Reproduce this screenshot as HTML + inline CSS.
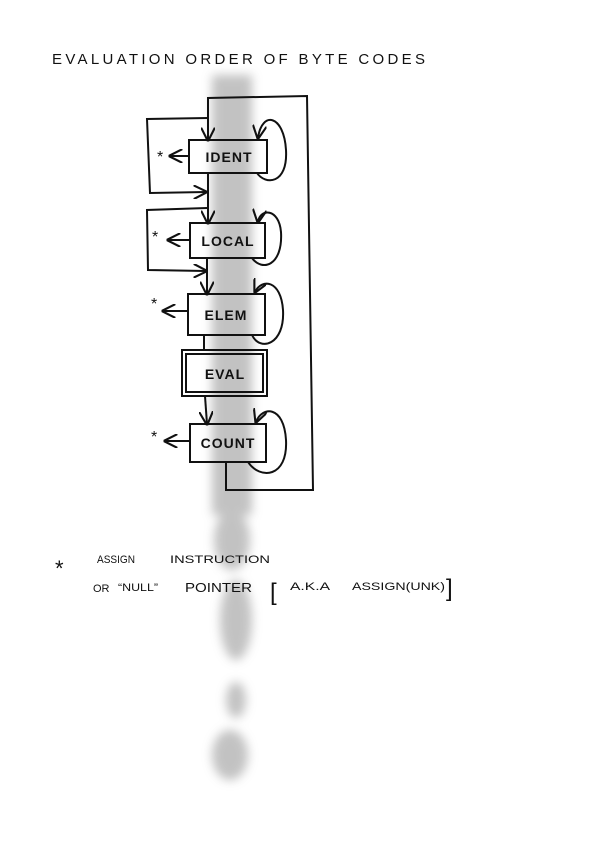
<!DOCTYPE html>
<html><head><meta charset="utf-8"><style>
html,body{margin:0;padding:0;background:#fff;width:608px;height:842px;overflow:hidden}
svg{display:block}
text{font-family:"Liberation Sans",sans-serif;fill:#111}
</style></head><body>
<svg width="608" height="842" viewBox="0 0 608 842" xmlns="http://www.w3.org/2000/svg">
<defs>
<filter id="b" x="-50%" y="-10%" width="200%" height="120%"><feGaussianBlur stdDeviation="5"/></filter>
<marker id="ar" viewBox="0 0 10 10" refX="9" refY="5" markerWidth="7" markerHeight="7" orient="auto"><path d="M0,0 L10,5 L0,10" fill="none" stroke="#111" stroke-width="1.5"/></marker>
</defs>
<g fill="#b4b4b4" filter="url(#b)" opacity="0.8">
<rect x="212" y="75" width="40" height="440"/>
<ellipse cx="232" cy="540" rx="18" ry="30"/>
<ellipse cx="236" cy="620" rx="16" ry="40"/>
<ellipse cx="236" cy="700" rx="10" ry="18"/>
<ellipse cx="230" cy="755" rx="18" ry="25"/>
</g>
<text x="52" y="64" font-size="15" textLength="373" lengthAdjust="spacing">EVALUATION ORDER OF BYTE CODES</text>
<g fill="none" stroke="#111" stroke-width="2">
<path d="M226,462 L226,490 L313,490 L307,96 L208,98 L208,140" marker-end="url(#ar)"/>
<rect x="189" y="140" width="78" height="33"/>
<rect x="190" y="223" width="75" height="35"/>
<rect x="188" y="294" width="77" height="41"/>
<rect x="182" y="350" width="85" height="46"/>
<rect x="186" y="354" width="77" height="38"/>
<rect x="190" y="424" width="76" height="38"/>
<path d="M208,173 L208,223" marker-end="url(#ar)"/>
<path d="M207,258 L207,294" marker-end="url(#ar)"/>
<path d="M204,335 L204,350"/>
<path d="M205,396 L207,424" marker-end="url(#ar)"/>
<path d="M208,118 L147,119 L150,193 L206,192" marker-end="url(#ar)"/>
<path d="M207,208 L147,210 L148,270 L206,271" marker-end="url(#ar)"/>
<path d="M189,156 L170,156" marker-end="url(#ar)"/>
<path d="M190,240 L168,240" marker-end="url(#ar)"/>
<path d="M188,311 L163,311" marker-end="url(#ar)"/>
<path d="M190,441 L165,441" marker-end="url(#ar)"/>
<path d="M257,173 C265,185 288,185 286,150 C284,115 262,110 258,138" marker-end="url(#ar)"/>
<path d="M252,258 C262,272 283,266 281,232 C279,208 260,208 258,222" marker-end="url(#ar)"/>
<path d="M252,335 C260,352 285,345 283,310 C281,280 262,278 255,292" marker-end="url(#ar)"/>
<path d="M248,462 C260,480 288,478 286,440 C284,405 262,406 256,422" marker-end="url(#ar)"/>
</g>
<g font-size="14" font-weight="bold" text-anchor="middle" letter-spacing="1">
<text x="229" y="162">IDENT</text>
<text x="228" y="246">LOCAL</text>
<text x="226" y="320">ELEM</text>
<text x="225" y="379">EVAL</text>
<text x="228" y="448">COUNT</text>
</g>
<g font-size="16">
<text x="157" y="162">*</text>
<text x="152" y="242">*</text>
<text x="151" y="309">*</text>
<text x="151" y="442">*</text>
</g>
<text x="55" y="576" font-size="22">*</text>
<g font-size="11">
<text x="97" y="563" textLength="38" lengthAdjust="spacingAndGlyphs">ASSIGN</text>
<text x="170" y="563" textLength="100" lengthAdjust="spacingAndGlyphs">INSTRUCTION</text>
<text x="93" y="592">OR</text>
<text x="118" y="591" textLength="40" lengthAdjust="spacingAndGlyphs">“NULL”</text>
<text x="185" y="592" font-size="13" textLength="67" lengthAdjust="spacingAndGlyphs">POINTER</text>
<text x="290" y="590" textLength="40" lengthAdjust="spacingAndGlyphs">A.K.A</text>
<text x="352" y="590" textLength="93" lengthAdjust="spacingAndGlyphs">ASSIGN(UNK)</text>
</g>
<text x="270" y="600" font-size="24">[</text>
<text x="446" y="596" font-size="24">]</text>
</svg>
</body></html>
